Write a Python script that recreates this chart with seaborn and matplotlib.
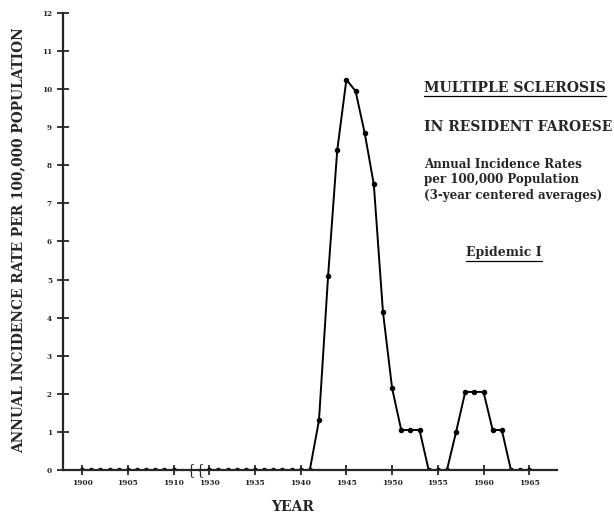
import matplotlib
matplotlib.use("Agg")
from matplotlib import pyplot as plt
from matplotlib.lines import Line2D
import pandas as pd
import seaborn as sns

# --- data (3-year centred averages, per 100,000)
years = [1900, 1901, 1902, 1903, 1904, 1905, 1906, 1907, 1908, 1909, 1910,
         1930, 1931, 1932, 1933, 1934, 1935, 1936, 1937, 1938, 1939, 1940,
         1941, 1942, 1943, 1944, 1945, 1946, 1947, 1948, 1949, 1950,
         1951, 1952, 1953, 1954, 1955, 1956, 1957, 1958, 1959, 1960,
         1961, 1962, 1963, 1964, 1965]
rates = [0, 0, 0, 0, 0, 0, 0, 0, 0, 0, 0,
         0, 0, 0, 0, 0, 0, 0, 0, 0, 0, 0,
         0, 1.3, 5.1, 8.4, 10.25, 9.95, 8.85, 7.5, 4.15, 2.15,
         1.05, 1.05, 1.05, 0, 0, 0, 1.0, 2.05, 2.05, 2.05,
         1.05, 1.05, 0, 0, 0]
tick_years = [1900, 1905, 1910, 1930, 1935, 1940, 1945, 1950, 1955, 1960, 1965]
y_ticks = list(range(0, 13))

# years after the axis break are pulled left
GAP = 16.1
def pos(y):
    return y if y <= 1910 else y - GAP

df = pd.DataFrame({'year': years, 'rate': rates})
df['pos'] = df['year'].map(pos)

sns.set_style("ticks")
plt.rcParams['font.family'] = ['DejaVu Serif', 'Liberation Serif']
plt.rcParams['font.weight'] = 'bold'

fig = plt.figure(figsize=(6.14, 5.17), dpi=100)
ax = fig.add_axes([0.1026, 0.0909, 0.804, 0.884])

sns.lineplot(data=df, x='pos', y='rate', ax=ax, color='black', linewidth=1.4,
             marker='o', markersize=3.2, markeredgecolor='black')

ax.set_xlim(1897.9, 1951.9)
ax.set_ylim(0, 12)
ax.set_xticks([pos(t) for t in tick_years])
ax.set_xticklabels([str(t) for t in tick_years], fontsize=5.4, fontweight='bold')
ax.set_yticks(y_ticks)
ax.set_yticklabels([str(t) for t in y_ticks], fontsize=5.2, fontweight='bold')
ax.tick_params(axis='x', direction='inout', length=7, width=1.3, pad=3)
ax.tick_params(axis='y', direction='inout', length=8, width=1.3, pad=4)
for s in ['left', 'bottom']:
    ax.spines[s].set_linewidth(1.6)
sns.despine(ax=ax)
ax.spines['left'].set_bounds(0, 12)

ax.set_xlabel('')
ax.set_ylabel('')

# axis break marks
for bx in [1911.9, 1912.8]:
    ax.text(bx, 0, '{', fontsize=10, ha='center', va='center', clip_on=False,
            fontweight='normal')

fig.text(0.030, 0.536, 'ANNUAL INCIDENCE RATE PER 100,000 POPULATION',
         rotation=90, ha='center', va='center', fontsize=9.9, fontweight='bold')
fig.text(0.476, 0.019, 'YEAR', ha='center', va='center', fontsize=10, fontweight='bold')

x0 = 424 / 614
t1 = fig.text(x0, 1 - 88 / 517, 'MULTIPLE SCLEROSIS', ha='left', va='center',
              fontsize=10.1, fontweight='bold')
fig.text(x0, 1 - 127 / 517, 'IN RESIDENT FAROESE', ha='left', va='center',
         fontsize=10, fontweight='bold')
fig.text(x0, 1 - 180 / 517,
         'Annual Incidence Rates\nper 100,000 Population\n(3-year centered averages)',
         ha='left', va='center', fontsize=8.6, fontweight='bold', linespacing=1.25)
t2 = fig.text(504 / 614, 1 - 253 / 517, 'Epidemic I', ha='center', va='center',
              fontsize=9, fontweight='bold')

# underline the two headings
renderer = fig.canvas.get_renderer()
for t in [t1, t2]:
    bb = t.get_window_extent(renderer).transformed(fig.transFigure.inverted())
    fig.add_artist(Line2D([bb.x0, bb.x1], [bb.y0 - 0.002, bb.y0 - 0.002],
                          transform=fig.transFigure, color='black', linewidth=0.9))

fig.savefig('out.png', dpi=100)
